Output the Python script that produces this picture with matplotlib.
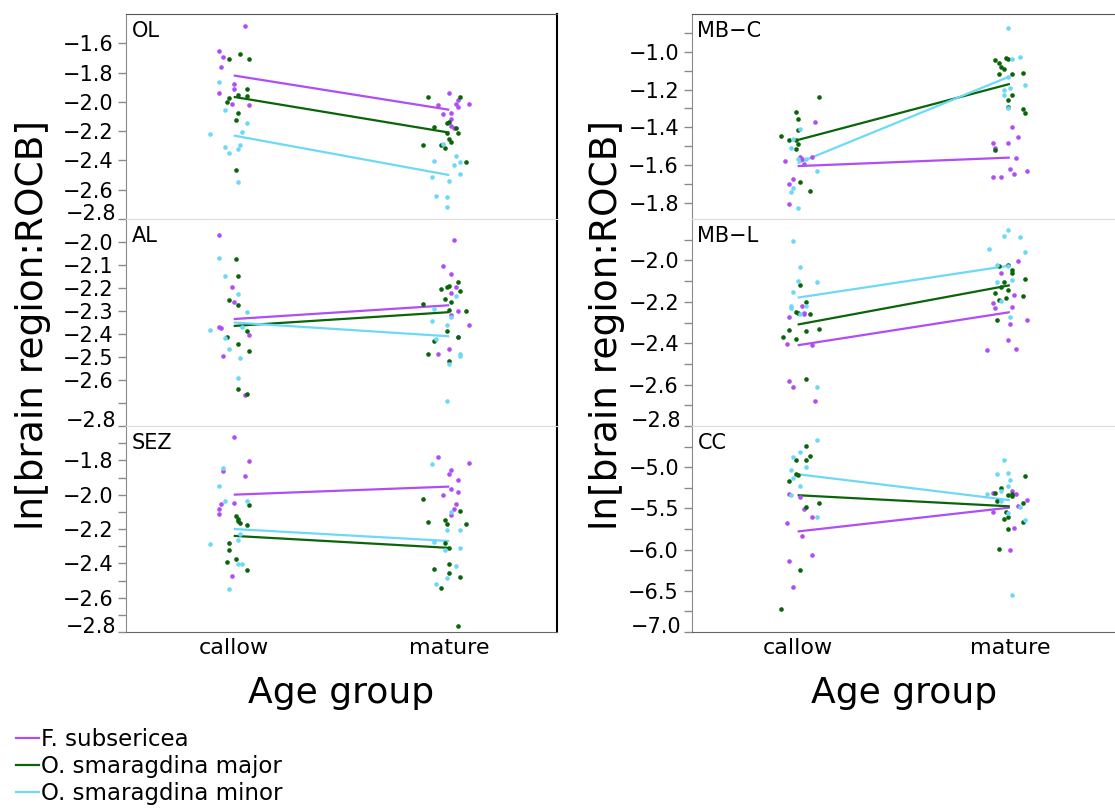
import matplotlib
matplotlib.use("Agg")
import matplotlib.pyplot as plt
from matplotlib.lines import Line2D
from matplotlib.transforms import ScaledTranslation
import numpy as np

# ---------------- data ----------------
age_groups = ["callow", "mature"]
species = ["F. subsericea", "O. smaragdina major", "O. smaragdina minor"]
colors = ["#B04DF7", "#0A650A", "#6ED8F7"]
region_names = ["OL", "AL", "SEZ", "MB\u2212C", "MB\u2212L", "CC"]
y_label = "ln[brain region:ROCB]"
x_label = "Age group"

# --- OL ---
OL_fs_callow = [-1.485, -1.654, -1.695, -1.763, -1.878, -1.912, -1.939, -2.014, -2.020]
OL_fs_mature = [-1.939, -1.986, -2.014, -2.034, -2.014, -2.020, -2.081, -2.075, -2.115, -2.163, -2.176]
OL_maj_callow = [-1.675, -1.708, -1.708, -1.912, -1.953, -1.959, -1.973, -2.0, -2.075, -2.122, -2.468]
OL_maj_mature = [-1.966, -1.966, -2.142, -2.136, -2.169, -2.176, -2.210, -2.210, -2.251, -2.271, -2.298, -2.298, -2.312, -2.414]
OL_min_callow = [-1.864, -2.054, -2.142, -2.217, -2.203, -2.305, -2.346, -2.298, -2.319, -2.549]
OL_min_mature = [-2.285, -2.407, -2.373, -2.414, -2.434, -2.495, -2.515, -2.542, -2.644, -2.651, -2.719]
OL_fit = [[-1.82, -2.054], [-1.966, -2.21], [-2.23, -2.50]]

# --- AL ---
AL_fs_callow = [-1.97, -2.197, -2.262, -2.369, -2.373, -2.403, -2.494, -2.665]
AL_fs_mature = [-1.991, -2.103, -2.137, -2.197, -2.223, -2.318, -2.300, -2.361, -2.412, -2.464, -2.485]
AL_maj_callow = [-2.073, -2.146, -2.253, -2.275, -2.386, -2.412, -2.442, -2.476, -2.639, -2.661]
AL_maj_mature = [-2.206, -2.197, -2.193, -2.176, -2.215, -2.249, -2.262, -2.270, -2.296, -2.300, -2.386, -2.412, -2.429, -2.485, -2.519]
AL_min_callow = [-2.069, -2.146, -2.227, -2.305, -2.382, -2.369, -2.416, -2.464, -2.506, -2.592]
AL_min_mature = [-2.236, -2.292, -2.326, -2.343, -2.361, -2.421, -2.489, -2.494, -2.532, -2.691]
AL_fit = [[-2.335, -2.275], [-2.365, -2.305], [-2.35, -2.41]]

# --- SEZ ---
SEZ_fs_callow = [-1.665, -1.806, -1.865, -1.894, -2.053, -2.082, -2.112, -2.047, -2.471]
SEZ_fs_mature = [-1.782, -1.818, -1.859, -1.882, -1.912, -1.965, -2.0, -1.982, -2.053, -2.082, -2.118]
SEZ_maj_callow = [-2.059, -2.124, -2.141, -2.153, -2.165, -2.176, -2.282, -2.324, -2.394, -2.376, -2.441]
SEZ_maj_mature = [-2.024, -2.094, -2.147, -2.171, -2.159, -2.171, -2.282, -2.312, -2.406, -2.435, -2.459, -2.482, -2.541, -2.765]
SEZ_min_callow = [-1.847, -1.947, -2.035, -2.035, -2.229, -2.265, -2.288, -2.406, -2.406, -2.547]
SEZ_min_mature = [-1.824, -2.1, -2.206, -2.206, -2.276, -2.324, -2.312, -2.418, -2.488, -2.518]
SEZ_fit = [[-2.0, -1.953], [-2.24, -2.31], [-2.20, -2.27]]

# --- MB-C ---
MBC_fs_callow = [-1.371, -1.557, -1.568, -1.578, -1.557, -1.594, -1.674, -1.700, -1.806]
MBC_fs_mature = [-1.398, -1.451, -1.483, -1.483, -1.509, -1.562, -1.621, -1.647, -1.663, -1.663, -1.631]
MBC_maj_callow = [-1.446, -1.467, -1.467, -1.488, -1.515, -1.318, -1.355, -1.414, -1.239, -1.690, -1.737]
MBC_maj_mature = [-1.042, -1.058, -1.032, -1.037, -1.080, -1.090, -1.117, -1.117, -1.111, -1.228, -1.255, -1.292, -1.302, -1.324, -1.520]
MBC_min_callow = [-1.408, -1.462, -1.509, -1.568, -1.568, -1.631, -1.721, -1.743, -1.828]
MBC_min_mature = [-0.873, -1.037, -1.027, -1.133, -1.191, -1.202, -1.228, -1.297, -1.175]
MBC_fit = [[-1.605, -1.56], [-1.467, -1.17], [-1.59, -1.13]]

# --- MB-L ---
MBL_fs_callow = [-2.222, -2.255, -2.275, -2.405, -2.410, -2.583, -2.612, -2.680, -2.26]
MBL_fs_mature = [-2.005, -2.063, -2.169, -2.207, -2.231, -2.227, -2.308, -2.289, -2.386, -2.429, -2.434]
MBL_maj_callow = [-2.120, -2.202, -2.251, -2.255, -2.260, -2.337, -2.342, -2.333, -2.371, -2.381, -2.573]
MBL_maj_mature = [-2.029, -2.024, -2.048, -2.063, -2.106, -2.130, -2.145, -2.092, -2.159, -2.193, -2.183, -2.173, -2.289]
MBL_min_callow = [-1.904, -2.034, -2.101, -2.154, -2.106, -2.222, -2.231, -2.222, -2.260, -2.612]
MBL_min_mature = [-1.855, -1.880, -1.889, -1.947, -1.961, -2.024, -2.029, -2.106, -2.096, -2.198, -2.275]
MBL_fit = [[-2.41, -2.25], [-2.31, -2.12], [-2.18, -2.025]]

# --- CC ---
CC_fs_callow = [-5.329, -5.366, -5.512, -5.683, -5.610, -5.829, -6.061, -6.134, -6.451]
CC_fs_mature = [-5.317, -5.293, -5.329, -5.402, -5.476, -5.549, -5.732, -6.0]
CC_maj_callow = [-4.744, -4.866, -4.915, -4.915, -5.085, -5.098, -5.171, -5.439, -5.488, -6.244, -6.720]
CC_maj_mature = [-5.110, -5.256, -5.317, -5.341, -5.329, -5.415, -5.354, -5.439, -5.549, -5.610, -5.634, -5.671, -5.744, -5.988]
CC_min_callow = [-4.671, -4.817, -4.878, -5.037, -5.0, -5.134, -5.232, -5.341, -5.610]
CC_min_mature = [-4.915, -5.085, -5.073, -5.159, -5.232, -5.293, -5.329, -5.415, -5.561, -5.488, -5.646, -6.549]
CC_fit = [[-5.78, -5.49], [-5.34, -5.475], [-5.085, -5.40]]

# ---------------- horizontal jitter of points ----------------
JIT = {
    "OL": [[[0.05, -0.07, -0.05, -0.06, 0.0, 0.0, -0.07, -0.01, 0.07],
            [0.0, 0.04, 0.03, 0.04, 0.09, -0.05, -0.03, 0.01, 0.01, 0.01, 0.02]],
           [[0.03, -0.02, 0.07, 0.06, 0.02, 0.06, -0.02, -0.03, 0.02, 0.01, 0.01],
            [-0.10, 0.05, -0.01, 0.0, -0.07, 0.03, -0.01, 0.04, 0.0, 0.01, -0.12, -0.04, -0.02, 0.08]],
           [[-0.07, -0.04, 0.06, -0.11, 0.04, -0.04, -0.02, 0.03, 0.02, 0.02],
            [-0.03, -0.07, 0.03, 0.05, 0.02, 0.05, -0.08, 0.0, -0.06, -0.01, -0.01]]],
    "AL": [[[-0.07, -0.01, 0.0, -0.07, -0.06, 0.07, -0.05, 0.05],
            [0.02, -0.03, 0.01, 0.03, 0.01, 0.01, 0.04, 0.09, 0.04, 0.0, -0.05]],
           [[0.01, 0.02, -0.02, 0.02, 0.06, -0.03, 0.02, 0.07, 0.02, 0.06],
            [-0.04, -0.01, 0.0, 0.04, 0.05, -0.02, 0.01, -0.12, 0.0, 0.08, -0.01, 0.04, -0.07, -0.10, 0.0]],
           [[-0.07, -0.04, 0.02, 0.06, -0.11, 0.04, -0.04, -0.02, 0.03, 0.02],
            [0.03, -0.07, 0.01, -0.08, -0.01, -0.06, 0.05, 0.05, 0.0, -0.01]]],
    "SEZ": [[[0.0, 0.07, -0.05, 0.05, -0.06, -0.07, -0.07, 0.0, -0.01],
             [-0.05, 0.09, 0.01, 0.0, 0.04, 0.01, -0.03, 0.04, 0.03, 0.02, 0.01]],
            [[0.07, 0.01, 0.02, 0.02, 0.03, 0.06, -0.02, -0.02, -0.03, 0.01, 0.06],
             [-0.12, 0.05, -0.02, -0.01, -0.10, 0.08, -0.02, 0.0, 0.0, -0.07, 0.0, 0.05, -0.04, 0.04]],
            [[-0.05, -0.07, -0.04, 0.06, 0.03, 0.02, -0.11, 0.02, 0.04, -0.02],
             [-0.08, 0.01, -0.01, 0.05, -0.07, -0.02, 0.05, 0.03, -0.01, -0.06]]],
    "MBC": [[[0.08, 0.01, 0.02, -0.06, 0.07, 0.03, -0.02, -0.04, -0.04],
             [0.01, 0.04, -0.08, -0.01, -0.07, 0.03, 0.0, 0.02, -0.08, -0.04, 0.08]],
            [[-0.08, -0.04, -0.01, 0.0, -0.01, -0.01, 0.0, 0.0, 0.10, 0.01, 0.06],
             [-0.07, -0.05, -0.02, -0.01, -0.04, -0.03, -0.05, 0.01, 0.06, 0.01, -0.01, -0.01, 0.06, 0.07, -0.07]],
            [[0.01, -0.02, -0.03, 0.0, 0.04, 0.09, -0.02, -0.03, 0.0],
             [-0.01, 0.01, 0.05, -0.01, 0.0, -0.03, -0.03, -0.01, 0.07]]],
    "MBL": [[[0.02, 0.03, -0.04, -0.05, 0.07, -0.04, -0.02, 0.08, 0.03],
             [0.04, -0.04, 0.02, -0.08, -0.07, 0.01, 0.0, 0.08, -0.01, 0.03, -0.11]],
            [[0.01, 0.04, -0.01, 0.0, 0.06, -0.04, 0.04, 0.10, -0.07, -0.01, 0.04],
             [-0.05, -0.01, 0.01, 0.01, -0.03, -0.04, -0.01, 0.07, -0.07, -0.05, -0.02, 0.06, -0.06]],
            [[-0.02, 0.01, 0.0, -0.02, 0.09, -0.03, -0.03, 0.04, 0.01, 0.09],
             [-0.01, -0.03, 0.05, -0.10, 0.07, -0.06, -0.01, -0.06, 0.01, -0.04, 0.0]]],
    "CC": [[[-0.04, 0.01, 0.03, -0.05, 0.07, 0.02, 0.07, -0.04, -0.02],
            [-0.08, 0.01, 0.03, 0.08, 0.04, -0.08, 0.02, 0.0]],
           [[0.04, 0.06, -0.01, 0.04, -0.01, 0.0, -0.04, 0.10, 0.04, 0.01, -0.08],
            [0.07, -0.04, -0.07, -0.01, 0.01, -0.06, 0.01, 0.06, -0.02, -0.01, -0.03, 0.06, -0.01, -0.05]],
           [[0.09, 0.01, -0.02, -0.03, 0.04, -0.02, 0.01, -0.03, 0.09],
            [-0.03, -0.06, -0.01, 0.0, -0.01, -0.04, -0.11, -0.04, -0.01, 0.05, 0.07, 0.01]]],
}

# ---------------- panel settings ----------------
PANELS = [
    # key, name, points, fit, ylim, major ticks, unlabeled majors, minor ticks
    ("OL", "OL",
     [[OL_fs_callow, OL_fs_mature], [OL_maj_callow, OL_maj_mature], [OL_min_callow, OL_min_mature]],
     OL_fit, (-2.8, -1.4), np.arange(-2.8, -1.55, 0.2), [], []),
    ("AL", "AL",
     [[AL_fs_callow, AL_fs_mature], [AL_maj_callow, AL_maj_mature], [AL_min_callow, AL_min_mature]],
     AL_fit, (-2.8, -1.9), np.arange(-2.8, -1.95, 0.1), [-2.7], []),
    ("SEZ", "SEZ",
     [[SEZ_fs_callow, SEZ_fs_mature], [SEZ_maj_callow, SEZ_maj_mature], [SEZ_min_callow, SEZ_min_mature]],
     SEZ_fit, (-2.8, -1.6), np.arange(-2.8, -1.75, 0.2), [], np.arange(-2.7, -1.65, 0.2)),
    ("MBC", "MB\u2212C",
     [[MBC_fs_callow, MBC_fs_mature], [MBC_maj_callow, MBC_maj_mature], [MBC_min_callow, MBC_min_mature]],
     MBC_fit, (-1.885, -0.8), np.arange(-1.8, -0.95, 0.2), [], np.arange(-1.7, -0.85, 0.2)),
    ("MBL", "MB\u2212L",
     [[MBL_fs_callow, MBL_fs_mature], [MBL_maj_callow, MBL_maj_mature], [MBL_min_callow, MBL_min_mature]],
     MBL_fit, (-2.8, -1.8), np.arange(-2.8, -1.95, 0.2), [], np.arange(-2.7, -1.85, 0.2)),
    ("CC", "CC",
     [[CC_fs_callow, CC_fs_mature], [CC_maj_callow, CC_maj_mature], [CC_min_callow, CC_min_mature]],
     CC_fit, (-7.0, -4.5), np.arange(-7.0, -4.95, 0.5), [], np.arange(-6.75, -4.7, 0.5)),
]

W, H = 1115, 810
fig = plt.figure(figsize=(W / 100, H / 100), dpi=100)

col_x = [(126, 557), (691.5, 1116)]
row_y = [(14, 219), (219, 426), (426, 632)]

TICK_FS = 15
GREY = "#8a8a8a"


def fmt(v, step):
    s = f"{abs(v):.1f}"
    return ("\u2212" + s) if v < -1e-9 else s


axes = []
for i, (key, name, pts, fit, ylim, majors, unlabeled, minors) in enumerate(PANELS):
    col, row = divmod(i, 3)
    x0, x1 = col_x[col]
    y0, y1 = row_y[row]
    ax = fig.add_axes([x0 / W, 1 - y1 / H, (x1 - x0) / W, (y1 - y0) / H])
    axes.append(ax)
    for si in range(3):
        for gi in range(2):
            vals = np.array(pts[si][gi])
            xs = gi + np.array(JIT[key][si][gi])
            ax.scatter(xs, vals, s=11, color=colors[si], linewidths=0, zorder=3)
        ax.plot([0, 1], fit[si], color=colors[si], lw=1.6, zorder=2, solid_capstyle="butt")
    ax.set_xlim(-0.5, 1.5)
    ax.set_ylim(*ylim)
    ax.set_xticks([0, 1])
    if row == 2:
        ax.set_xticklabels(age_groups, fontsize=16)
    else:
        ax.set_xticklabels([])
    ax.tick_params(axis="x", length=0, pad=4)
    ax.set_yticks(majors)
    labels = []
    for v in majors:
        if any(abs(v - u) < 1e-6 for u in unlabeled) or abs(v - ylim[0]) < 1e-6:
            labels.append("")
        else:
            labels.append(fmt(v, 0))
    ax.set_yticklabels(labels, fontsize=TICK_FS)
    if len(minors):
        ax.set_yticks(minors, minor=True)
    ax.tick_params(axis="y", which="both", length=6, width=1, color=GREY, pad=3, direction="out")
    # bottom label lifted inside the panel
    if any(abs(v - ylim[0]) < 1e-6 for v in majors):
        tr = ax.get_yaxis_transform() + ScaledTranslation(-10 / 100, 5 / 100, fig.dpi_scale_trans)
        ax.text(0, ylim[0], fmt(ylim[0], 0), transform=tr, ha="right", va="center", fontsize=TICK_FS)
    # spines
    ax.spines["left"].set_color(GREY)
    ax.spines["top"].set_color("#555555" if row == 0 else "#dddddd")
    ax.spines["bottom"].set_color("#666666" if row == 2 else "#dddddd")
    ax.spines["right"].set_color("black" if col == 0 else "#dddddd")
    ax.spines["right"].set_linewidth(1.5 if col == 0 else 1.0)
    ax.text(0.014, 0.965, name, transform=ax.transAxes, ha="left", va="top", fontsize=15)

# axis titles
for col in range(2):
    x0, x1 = col_x[col]
    fig.text((x0 + x1) / 2 / W, 1 - 703 / H, x_label, ha="center", va="baseline", fontsize=26)
fig.text(33 / W, 1 - 325 / H, y_label, rotation=90, ha="center", va="center", fontsize=27)
fig.text(607 / W, 1 - 325 / H, y_label, rotation=90, ha="center", va="center", fontsize=27)

handles = [Line2D([0], [0], color=c, lw=1.6) for c in colors]
fig.legend(handles, species, loc="upper left", bbox_to_anchor=(16 / W, 1 - 728 / H),
           frameon=False, fontsize=16.5, handlelength=1.0, handletextpad=0.1,
           labelspacing=0.18, borderpad=0, borderaxespad=0)

fig.savefig("out.png", dpi=100)
